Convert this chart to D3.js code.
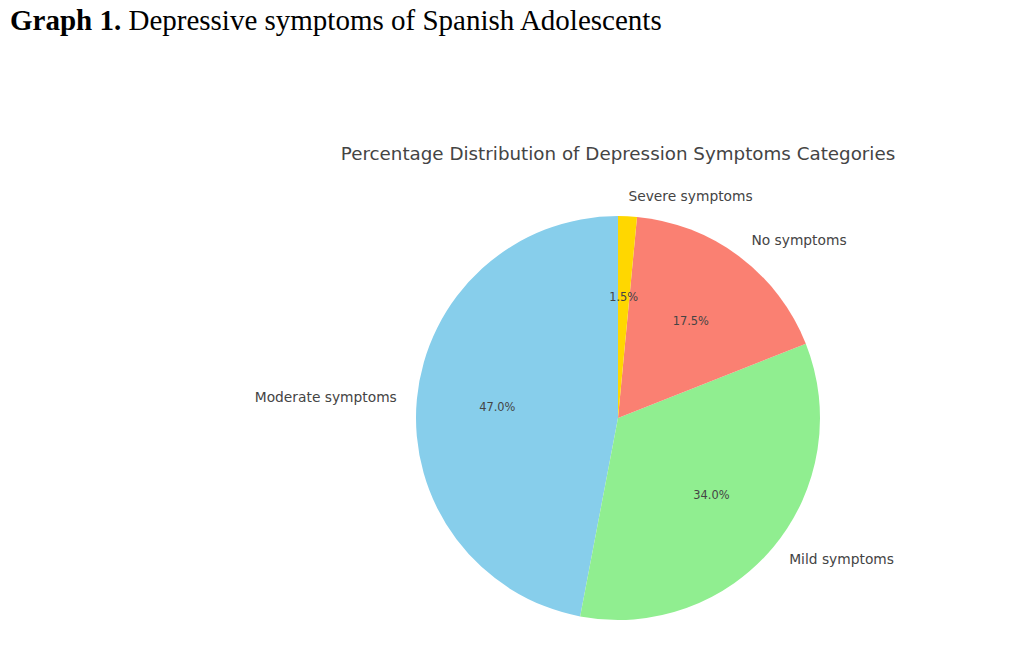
<!DOCTYPE html>
<html>
<head>
<meta charset="utf-8">
<script src="https://cdn.jsdelivr.net/npm/d3@7"></script>
<style>
  body { margin: 0; background: #fff; }
</style>
</head>
<body>
<div id="chart"></div>
<script>
// data, in the order the slices are laid out (counterclockwise from top)
var categories = ["Moderate symptoms", "Mild symptoms", "No symptoms", "Severe symptoms"];
var percentages = [47.0, 34.0, 17.5, 1.5];
var sliceColors = ["#87CEEB", "#90EE90", "#FA8072", "#FFD700"];

var w = 1024;
var h = 658;
var cx = 618, cy = 418, r = 202;

var svg = d3.select("#chart")
    .append("svg")
    .attr("width", w)
    .attr("height", h);

// page header
var header = svg.append("text")
    .attr("x", 10)
    .attr("y", 30)
    .attr("font-family", "'Liberation Serif', 'Times New Roman', serif")
    .attr("font-size", "29px")
    .attr("fill", "#000");
header.append("tspan").attr("font-weight", "bold").text("Graph 1.");
header.append("tspan").text(" Depressive symptoms of Spanish Adolescents");

// chart title
svg.append("text")
    .attr("x", cx)
    .attr("y", 160)
    .attr("text-anchor", "middle")
    .attr("font-family", "'DejaVu Sans', sans-serif")
    .attr("font-size", "18.3px")
    .attr("fill", "#444")
    .text("Percentage Distribution of Depression Symptoms Categories");

var dataset = categories.map(function(c, i) {
    return { key: c, value: percentages[i], color: sliceColors[i] };
});

// counterclockwise, starting at the top (like startangle=90)
var pie = d3.pie()
    .sort(null)
    .startAngle(0)
    .endAngle(-2 * Math.PI)
    .value(function(d) { return d.value; });

var arcs = pie(dataset);
var arc = d3.arc().innerRadius(0).outerRadius(r);

var g = svg.append("g").attr("transform", "translate(" + cx + "," + cy + ")");

g.selectAll("path")
    .data(arcs)
    .enter()
    .append("path")
    .attr("d", arc)
    .attr("fill", function(d) { return d.data.color; });

function midAngle(d) {
    return (d.startAngle + d.endAngle) / 2; // d3 angle, 0 = top, clockwise
}

// outer labels at 1.1 r
g.selectAll("text.label")
    .data(arcs)
    .enter()
    .append("text")
    .attr("class", "label")
    .attr("x", function(d) { return Math.sin(midAngle(d)) * r * 1.1; })
    .attr("y", function(d) { return -Math.cos(midAngle(d)) * r * 1.1; })
    .attr("dy", "0.35em")
    .attr("text-anchor", function(d) { return Math.sin(midAngle(d)) < 0 ? "end" : "start"; })
    .attr("font-family", "'DejaVu Sans', sans-serif")
    .attr("font-size", "13.8px")
    .attr("fill", "#444")
    .text(function(d) { return d.data.key; });

// percentage labels at 0.6 r
g.selectAll("text.pct")
    .data(arcs)
    .enter()
    .append("text")
    .attr("class", "pct")
    .attr("x", function(d) { return Math.sin(midAngle(d)) * r * 0.6; })
    .attr("y", function(d) { return -Math.cos(midAngle(d)) * r * 0.6; })
    .attr("dy", "0.35em")
    .attr("text-anchor", "middle")
    .attr("font-family", "'DejaVu Sans', sans-serif")
    .attr("font-size", "11.4px")
    .attr("fill", "#444")
    .text(function(d) { return d.data.value.toFixed(1) + "%"; });
</script>
</body>
</html>
